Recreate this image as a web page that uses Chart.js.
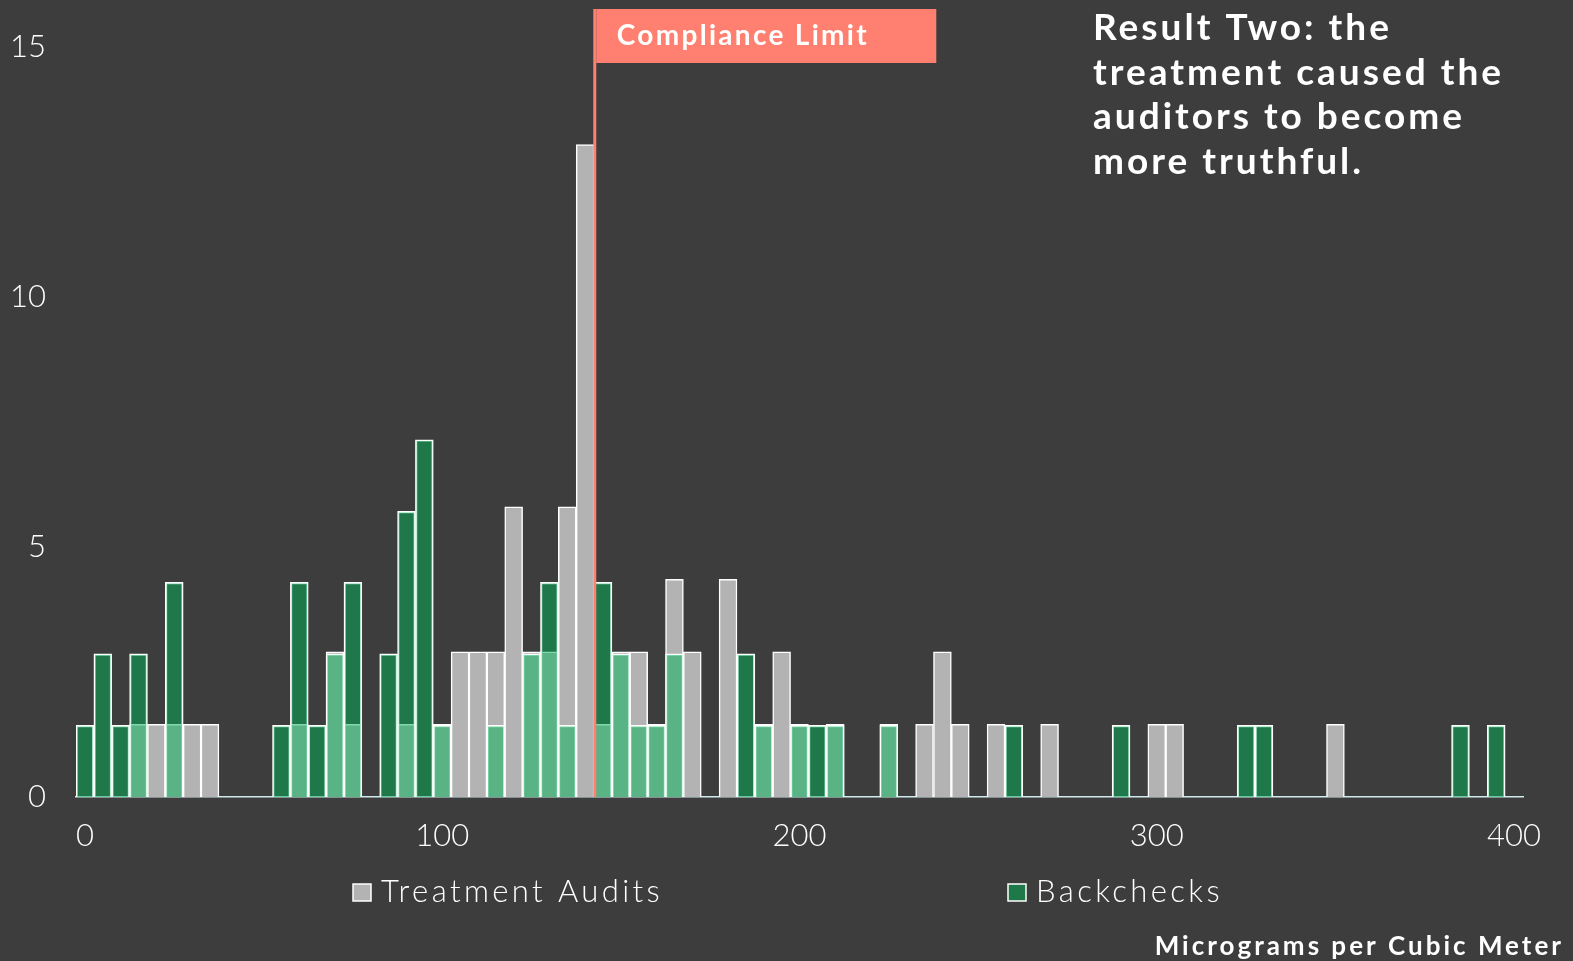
<!DOCTYPE html>
<html>
<head>
<meta charset="utf-8">
<title>Result Two</title>
<script src="https://cdn.jsdelivr.net/npm/chart.js"></script>
<style>
    html, body { margin: 0; padding: 0; background: #3d3d3d; }
    #wrap { position: relative; width: 1573px; height: 961px; }
</style>
</head>
<body>
<div id="wrap"><canvas id="chart-hasil"></canvas></div>
<script>
// bin centres (micrograms per cubic meter), 5 wide
const bin_labels = [
    0, 5, 10, 15, 20, 25, 30, 35, 40, 45, 50, 55, 60, 65, 70, 75, 80, 85, 90, 95,
    100, 105, 110, 115, 120, 125, 130, 135, 140, 145, 150, 155, 160, 165, 170, 175, 180, 185, 190, 195,
    200, 205, 210, 215, 220, 225, 230, 235, 240, 245, 250, 255, 260, 265, 270, 275, 280, 285, 290, 295,
    300, 305, 310, 315, 320, 325, 330, 335, 340, 345, 350, 355, 360, 365, 370, 375, 380, 385, 390, 395,
    400
];

// percent of readings in each bin
const treatment_audits = [
    0, 0, 0, 1.45, 1.45, 1.45, 1.45, 1.45, 0, 0,
    0, 0, 1.45, 0, 2.9, 1.45, 0, 0, 1.45, 0,
    1.45, 2.9, 2.9, 2.9, 5.8, 2.9, 2.9, 5.8, 13.04, 1.45,
    2.9, 2.9, 1.45, 4.35, 2.9, 0, 4.35, 0, 1.45, 2.9,
    1.45, 0, 1.45, 0, 0, 1.45, 0, 1.45, 2.9, 1.45,
    0, 1.45, 0, 0, 1.45, 0, 0, 0, 0, 0,
    1.45, 1.45, 0, 0, 0, 0, 0, 0, 0, 0,
    1.45, 0, 0, 0, 0, 0, 0, 0, 0, 0,
    0
];

const backchecks = [
    1.43, 2.86, 1.43, 2.86, 0, 4.29, 0, 0, 0, 0,
    0, 1.43, 4.29, 1.43, 2.86, 4.29, 0, 2.86, 5.71, 7.14,
    1.43, 0, 0, 1.43, 0, 2.86, 4.29, 1.43, 0, 4.29,
    2.86, 1.43, 1.43, 2.86, 0, 0, 0, 2.86, 1.43, 0,
    1.43, 1.43, 1.43, 0, 0, 1.43, 0, 0, 0, 0,
    0, 0, 1.43, 0, 0, 0, 0, 0, 1.43, 0,
    0, 0, 0, 0, 0, 1.43, 1.43, 0, 0, 0,
    0, 0, 0, 0, 0, 0, 0, 1.43, 0, 1.43,
    0
];

const x_tick_labels = [0, 100, 200, 300, 400];
const y_tick_labels = [0, 5, 10, 15];
const compliance_limit = 142.7;
const bin_width = 5;

const judul = ["Result Two: the", "treatment caused the", "auditors to become", "more truthful."];
const judul_sumbu_x = "Micrograms per Cubic Meter";

const warna_abu = "#b3b3b3";
const warna_hijau = "rgba(0,179,85,0.5)";
const warna_batas = "#ff8070";

const font_tipis = "Lato";

const anotasi = {
    id: 'anotasi',
    afterDatasetsDraw(chart){
        const ctx = chart.ctx;
        const area = chart.chartArea;
        const x_scale = chart.scales.x;
        let x_batas = x_scale.getPixelForValue(compliance_limit / bin_width);

        ctx.save();
        // garis batas
        ctx.strokeStyle = warna_batas;
        ctx.lineWidth = 3;
        ctx.beginPath();
        ctx.moveTo(x_batas, area.top);
        ctx.lineTo(x_batas, area.bottom);
        ctx.stroke();

        // kotak label
        ctx.fillStyle = warna_batas;
        ctx.fillRect(x_batas + 1.5, area.top, 340, 54);
        ctx.fillStyle = "#ffffff";
        ctx.font = "bold 28px Lato";
        ctx.letterSpacing = "2.3px";
        ctx.textBaseline = "alphabetic";
        ctx.textAlign = "left";
        ctx.fillText("Compliance Limit", x_batas + 22, area.top + 36);
        ctx.restore();
    },
    afterDraw(chart){
        const ctx = chart.ctx;
        ctx.save();
        ctx.fillStyle = "#ffffff";
        ctx.textAlign = "left";
        ctx.textBaseline = "alphabetic";

        // judul kanan atas
        ctx.font = "bold 37px Lato";
        ctx.letterSpacing = "3px";
        for (let index = 0; index < judul.length; index++) {
            ctx.fillText(judul[index], 1093, 40 + index * 44.5);
        }

        // legenda
        const legenda = [
            {x: 353, label: chart.data.datasets[0].label, warna: warna_abu},
            {x: 1008, label: chart.data.datasets[1].label, warna: "#1f7848"},
        ];
        ctx.font = "300 31px " + font_tipis;
        ctx.letterSpacing = "3.4px";
        for (let index = 0; index < legenda.length; index++) {
            let item = legenda[index];
            ctx.fillStyle = item.warna;
            ctx.fillRect(item.x, 884, 18, 17);
            ctx.strokeStyle = "#ffffff";
            ctx.lineWidth = 1.5;
            ctx.strokeRect(item.x, 884, 18, 17);
            ctx.fillStyle = "#ffffff";
            ctx.fillText(item.label, item.x + 28, 902);
        }

        // judul sumbu x
        ctx.textAlign = "right";
        ctx.font = "bold 26px Lato";
        ctx.letterSpacing = "3px";
        ctx.fillText(judul_sumbu_x, 1564, 955);
        ctx.restore();
    }
};

const ctx_hasil = document.getElementById('chart-hasil');

const chart_hasil = new Chart(ctx_hasil, {
    type: 'bar',
    data: {
        labels: bin_labels,
        datasets: [{
            label: "Treatment Audits",
            backgroundColor: warna_abu,
            borderColor: "#ffffff",
            borderWidth: 1.5,
            data: treatment_audits.map(v => v || null),
            order: 2,
        }, {
            label: "Backchecks",
            backgroundColor: warna_hijau,
            borderColor: "#ffffff",
            borderWidth: 1.5,
            data: backchecks.map(v => v || null),
            order: 1,
        }],
    },
    options: {
        responsive: true,
        maintainAspectRatio: false,
        animation: false,
        grouped: false,
        barPercentage: 1,
        categoryPercentage: 1,
        layout: { padding: { top: 9, right: 50, bottom: 0, left: 0 } },
        plugins: {
            legend: { display: false },
            tooltip: { enabled: false },
        },
        scales: {
            x: {
                grid: { display: false, drawTicks: false },
                border: { display: true, color: "#cfe9ee", width: 1.5 },
                ticks: {
                    color: "#ffffff",
                    font: { family: font_tipis, weight: 300, size: 31 },
                    padding: 20,
                    autoSkip: false,
                    maxRotation: 0,
                    callback: function(value, index){
                        let v = bin_labels[index];
                        return x_tick_labels.includes(v) ? String(v) : '';
                    }
                },
                afterFit(scale){
                    scale.height = 164;
                }
            },
            y: {
                min: 0,
                max: 15.75,
                grid: { display: false, drawTicks: false },
                border: { display: false },
                ticks: {
                    color: "#ffffff",
                    font: { family: font_tipis, weight: 300, size: 31 },
                    padding: 30,
                    stepSize: 5,
                },
                afterBuildTicks(scale){
                    scale.ticks = scale.ticks.filter(t => y_tick_labels.includes(t.value));
                },
                afterFit(scale){
                    scale.width = 76;
                    scale.paddingTop = 0;
                    scale.paddingBottom = 0;
                }
            }
        }
    },
    plugins: [anotasi]
});
</script>
</body>
</html>
